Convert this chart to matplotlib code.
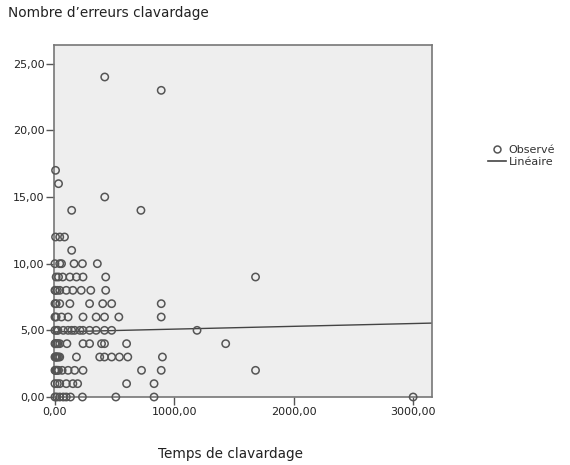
import matplotlib
matplotlib.use("Agg")
import matplotlib.pyplot as plt
import numpy as np
from matplotlib.lines import Line2D

# Observed points grouped by error count (y) -> list of times (x)
rows = {
    24: [417],
    23: [890],
    17: [5],
    16: [30],
    15: [417],
    14: [140, 720],
    12: [5, 40, 80],
    11: [140],
    10: [0, 40, 55, 160, 230, 355],
    9: [10, 30, 65, 125, 180, 235, 425, 1680],
    8: [0, 5, 20, 40, 95, 150, 220, 300, 425],
    7: [0, 10, 40, 125, 290, 400, 475, 890],
    6: [0, 10, 55, 110, 235, 345, 415, 535, 890],
    5: [0, 15, 25, 70, 110, 140, 165, 210, 235, 290, 345, 415, 475, 1190],
    4: [0, 5, 15, 25, 40, 100, 235, 290, 390, 415, 600, 1430],
    3: [0, 5, 10, 15, 20, 30, 40, 180, 375, 415, 475, 540, 610, 900],
    2: [0, 5, 10, 15, 20, 30, 60, 110, 165, 235, 725, 890, 1680],
    1: [0, 20, 40, 95, 150, 190, 600, 830],
    0: [0, 15, 40, 70, 95, 130, 230, 510, 830, 3000],
}
temps = [x for y, xs in rows.items() for x in xs]
erreurs = [y for y, xs in rows.items() for x in xs]

fit_intercept = 4.88
fit_slope = 0.00021

x_ticks = [0, 1000, 2000, 3000]
y_ticks = [0, 5, 10, 15, 20, 25]

title = "Nombre d\u2019erreurs clavardage"
xlabel = "Temps de clavardage"
legend_labels = ["Observé", "Linéaire"]

fig = plt.figure(figsize=(5.7, 4.65), dpi=100)
ax = fig.add_axes([54/570, 1 - 397/465, 378/570, 352/465])
ax.set_facecolor("#eeeeee")

ax.scatter(temps, erreurs, s=28, facecolors="none", edgecolors="#555555",
           linewidths=1.1, zorder=3, clip_on=False)
xl = np.array([-8, 3158])
ax.plot(xl, fit_intercept + fit_slope * xl, color="#444444", lw=1.0, zorder=2)

ax.set_xlim(-8, 3158)
ax.set_ylim(0, 26.4)
ax.set_xticks(x_ticks)
ax.set_yticks(y_ticks)
ax.set_xticklabels([f"{v:.2f}".replace(".", ",") for v in x_ticks])
ax.set_yticklabels([f"{v:.2f}".replace(".", ",") for v in y_ticks])
ax.tick_params(direction="out", length=6, width=1.0, color="#555555",
               labelsize=8, labelcolor="#222222", pad=1)
for s in ax.spines.values():
    s.set_color("#777777")
    s.set_linewidth(1.2)

fig.text(8/570, 1 - 13/465, title, fontsize=9.8, va="center", ha="left", color="#222222")
fig.text(230/570, 1 - 454/465, xlabel, fontsize=9.8, va="center", ha="center", color="#222222")

handles = [
    Line2D([], [], marker="o", ls="none", markerfacecolor="none",
           markeredgecolor="#555555", markersize=5, markeredgewidth=1.1),
    Line2D([], [], color="#444444", lw=1.2),
]
fig.legend(handles, legend_labels, loc="upper left", bbox_to_anchor=(482/570, 1 - 139/465),
           frameon=False, fontsize=8, handlelength=1.7, handletextpad=0.2,
           labelspacing=0.25, borderpad=0, labelcolor="#333333")

fig.savefig("out.png", dpi=100)
